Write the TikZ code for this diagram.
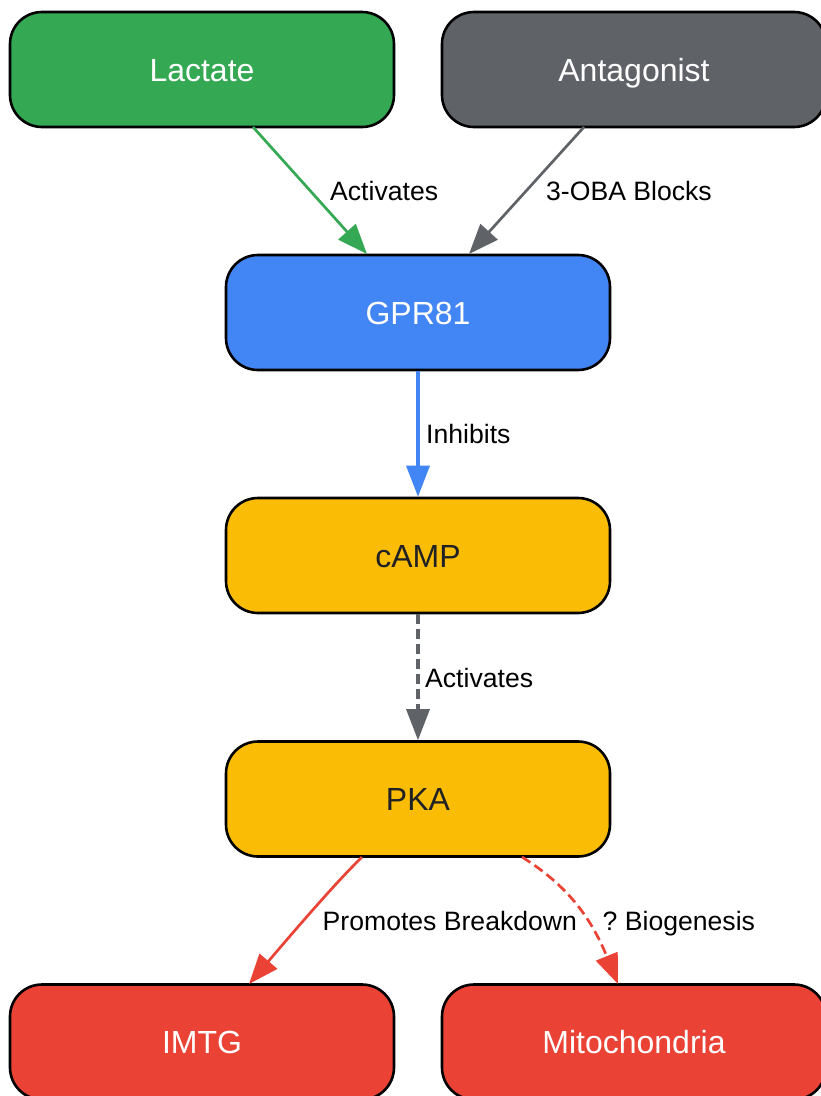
\documentclass[tikz,border=0pt]{standalone}
\usepackage{fontspec}
\setmainfont{Liberation Sans}
\usetikzlibrary{arrows.meta}
\definecolor{cgreen}{HTML}{34A853}
\definecolor{cgray}{HTML}{5F6368}
\definecolor{cblue}{HTML}{4285F4}
\definecolor{cyellow}{HTML}{FBBC05}
\definecolor{cred}{HTML}{EA4335}
\definecolor{cdark}{HTML}{202124}
\frenchspacing
\tikzset{x=1pt,y=-1pt,
 box/.style={draw=black,line width=2.6pt,rounded corners=32pt,minimum width=384pt,minimum height=115pt,inner sep=0pt,text height=23pt,text depth=0pt,font=\fontsize{32pt}{36pt}\selectfont},
 edge/.style={line width=2.7pt,-{Triangle[length=30pt,width=23pt]}},
 vedge/.style={edge,line width=3.3pt,-{Triangle[length=31pt,width=23pt]}},
 lab/.style={font=\fontsize{26.6pt}{30pt}\selectfont,text=black,inner sep=0pt,anchor=base west}}
\begin{document}
\begin{tikzpicture}
\useasboundingbox (0,0) rectangle (820,1096);
\node[box,fill=cgreen,text=white] (lac) at (202,69.5) {Lactate};
\node[box,fill=cgray,text=white] (ant) at (634,69.5) {Antagonist};
\node[box,fill=cblue,text=white] (gpr) at (418,312.5) {GPR81};
\node[box,fill=cyellow,text=cdark] (camp) at (418,555.5) {cAMP};
\node[box,fill=cyellow,text=cdark] (pka) at (418,799) {PKA};
\node[box,fill=cred,text=white] (imtg) at (202,1042) {IMTG};
\node[box,fill=cred,text=white] (mito) at (634,1042) {Mitochondria};
\coordinate (g1) at (367,254);
\coordinate (g2) at (469,254);
\coordinate (l1) at (253,127);
\coordinate (a1) at (584,127);
\coordinate (p1) at (362,857);
\coordinate (p2) at (522,857);
\coordinate (i1) at (249,984);
\coordinate (m1) at (618,984);
\draw[edge,cgreen] (l1) -- (g1);
\draw[edge,cgray] (a1) -- (g2);
\draw[vedge,cblue] (gpr.south) -- (camp.north);
\draw[vedge,cgray,dash pattern=on 10pt off 5pt] (camp.south) -- (pka.north);
\draw[edge,cred] (p1) .. controls (348,871) and (330,889) .. (i1);
\draw[edge,cred,dash pattern=on 10pt off 5pt] (p2) .. controls (565,884) and (590,915) .. (m1);
\node[lab] (t1) at (330,200) {Activates};
\node[lab] (t2) at (546,200) {3-OBA Blocks};
\node[lab] (t3) at (426,443) {Inhibits};
\node[lab] (t4) at (425,687) {Activates};
\node[lab] (t5) at (322.5,930) {Promotes Breakdown};
\node[lab] (t6) at (602.5,930) {? Biogenesis};
\end{tikzpicture}
\end{document}
